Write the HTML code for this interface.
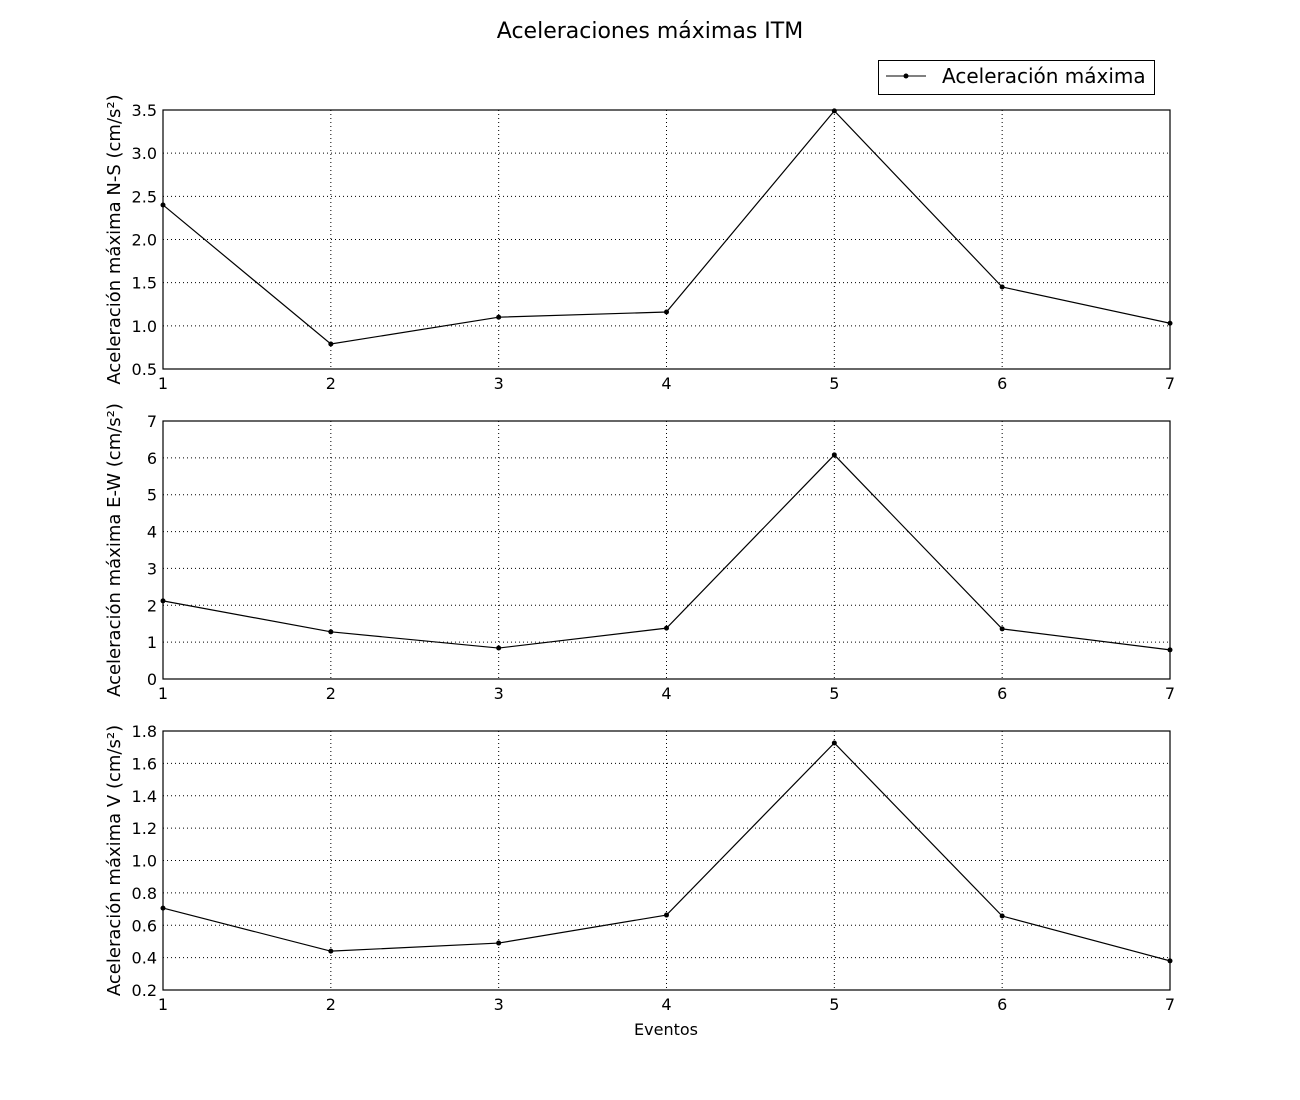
<!DOCTYPE html>
<html><head><meta charset="utf-8"><style>
html,body{margin:0;padding:0;background:#fff;}
svg{display:block;font-family:"DejaVu Sans","Liberation Sans",sans-serif;}
</style></head><body>
<svg id="chart" width="1300" height="1100" xmlns="http://www.w3.org/2000/svg">
<rect width="1300" height="1100" fill="#fff"/>
<text x="650" y="38" font-size="22" text-anchor="middle">Aceleraciones máximas ITM</text>
<g>
<rect x="878.5" y="60.5" width="276" height="34" fill="#fff" stroke="#000"/>
<line x1="886" y1="76" x2="926" y2="76" stroke="#000"/>
<circle cx="906" cy="76" r="2.5" fill="#000"/>
<text x="942" y="83" font-size="20">Aceleración máxima</text>
</g>
<text x="666" y="1035" font-size="16" text-anchor="middle">Eventos</text>
</svg>
<script>
const categories = [1,2,3,4,5,6,7];
const seriesNS = [2.40,0.79,1.10,1.16,3.49,1.45,1.03];
const seriesEW = [2.12,1.28,0.84,1.38,6.08,1.36,0.79];
const seriesV = [0.706,0.44,0.49,0.663,1.726,0.657,0.38];
const ticksNS = ["0.5","1.0","1.5","2.0","2.5","3.0","3.5"];
const ticksEW = ["0","1","2","3","4","5","6","7"];
const ticksV = ["0.2","0.4","0.6","0.8","1.0","1.2","1.4","1.6","1.8"];
const svg = document.getElementById('chart');
const NS = 'http://www.w3.org/2000/svg';
function mk(tag, attrs, parent){const e=document.createElementNS(NS,tag);for(const k in attrs)e.setAttribute(k,attrs[k]);(parent||svg).appendChild(e);return e;}
const X0=163, X1=1170;
function xs(v){return X0+(v-1)/(6)*(X1-X0);}
function panel(name, top, bottom, ticks, data, label){
  const lo=parseFloat(ticks[0]), hi=parseFloat(ticks[ticks.length-1]);
  const ys=v=>bottom-(v-lo)/(hi-lo)*(bottom-top);
  const g=mk('g',{});
  
  
  categories.forEach(c=>{
    const l=mk('line',{x1:xs(c),x2:xs(c),y1:top,y2:bottom,stroke:'#000','stroke-width':1,'stroke-dasharray':'1,3'},g);
    
    
    const t=mk('text',{x:xs(c),y:bottom+20,'font-size':16,'text-anchor':'middle'},g);
    
    
    t.textContent=c;
  });
  ticks.forEach(tk=>{
    const y=ys(parseFloat(tk));
    const l=mk('line',{x1:X0,x2:X1,y1:y,y2:y,stroke:'#000','stroke-width':1,'stroke-dasharray':'1,3'},g);
    
    
    const t=mk('text',{x:X0-6,y:y+6,'font-size':16,'text-anchor':'end'},g);
    
    
    t.textContent=tk;
  });
  const pts=data.map((v,i)=>xs(categories[i])+','+ys(v)).join(' ');
  const pl=mk('polyline',{points:pts,fill:'none',stroke:'#000','stroke-width':1.2},g);
  
  
  data.forEach((v,i)=>{
    const c=mk('circle',{cx:xs(categories[i]),cy:ys(v),r:2.5,fill:'#000'},g);
    
    
  });
  const fr=mk('rect',{x:X0,y:top,width:X1-X0,height:bottom-top,fill:'none',stroke:'#000','stroke-width':1.2},g);
  
  
  const cy=(top+bottom)/2;
  const yl=mk('text',{x:120,y:cy,'font-size':18,'text-anchor':'middle',transform:'rotate(-90 120 '+cy+')'},g);
  
  
  yl.textContent=label;
}
panel('ns',110,369,ticksNS,seriesNS,'Aceleración máxima N-S (cm/s²)');
panel('ew',421,679,ticksEW,seriesEW,'Aceleración máxima E-W (cm/s²)');
panel('v',731,990,ticksV,seriesV,'Aceleración máxima V (cm/s²)');
</script>
</body></html>
